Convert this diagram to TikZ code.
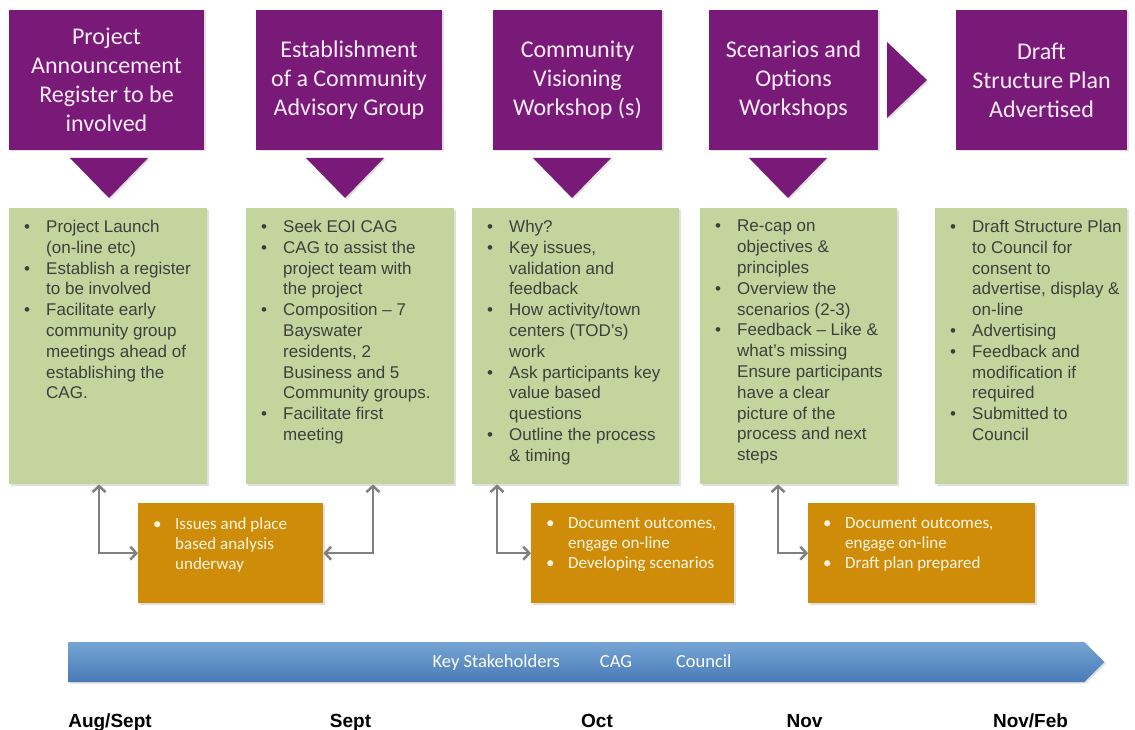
\documentclass[tikz,border=0pt]{standalone}
\usepackage{fontspec}
\setmainfont{Liberation Sans}
\newfontfamily\calibri{Carlito}
\usetikzlibrary{positioning,shapes.arrows,shadows,arrows.meta}

\definecolor{stagepurple}{RGB}{122,26,120}
\definecolor{stagetext}{RGB}{250,236,248}
\definecolor{taskgreen}{RGB}{195,213,157}
\definecolor{taskgray}{RGB}{62,62,62}
\definecolor{outorange}{RGB}{207,140,8}
\definecolor{outtext}{RGB}{255,246,228}
\definecolor{linkgray}{RGB}{128,128,128}
\definecolor{bluetop}{RGB}{118,165,212}
\definecolor{bluebot}{RGB}{72,122,182}

\newcommand{\bul}{\makebox[22pt][l]{\textbullet}}
\newcommand{\ind}{\hspace*{22pt}}

\tikzset{%
  softshadow/.style={drop shadow={shadow xshift=1.5pt,shadow yshift=-1.5pt,opacity=0.25}},
  stage/.style={fill=stagepurple, text=stagetext, align=center, inner sep=0pt,
    minimum height=140pt, font=\calibri\fontsize{24}{29}\selectfont, softshadow},
  taskbox/.style={fill=taskgreen, anchor=north west, inner sep=0pt,
    minimum height=276pt, softshadow},
  tasktext/.style={anchor=north west, inner sep=0pt, align=left, text=taskgray,
    font=\fontsize{17}{20.8}\selectfont},
  outbox/.style={fill=outorange, anchor=north west, inner sep=0pt,
    minimum height=100pt, softshadow},
  outtext/.style={anchor=north west, inner sep=0pt, align=left, text=outtext,
    font=\calibri\fontsize{17}{20}\selectfont},
  link/.style={draw=linkgray, line width=2.5pt, >={Straight Barb[length=6pt,width=13pt]}, <->},
  timeline/.style={single arrow, single arrow head extend=0pt, inner sep=0pt, anchor=west,
    minimum height=1036pt, minimum width=40pt, top color=bluetop, bottom color=bluebot,
    softshadow},
  month/.style={anchor=base, font=\bfseries\fontsize{19}{23}\selectfont}
}

\begin{document}
\begin{tikzpicture}[x=1pt,y=-1pt]
    \useasboundingbox (0,0) rectangle (1135,730);

    % Stages
    \node[stage, minimum width=195pt] (s1) at (106.5,80) {Project\\Announcement\\Register to be\\involved};
    \node[stage, minimum width=186pt] (s2) at (349,80) {Establishment\\of a Community\\Advisory Group};
    \node[stage, minimum width=169pt] (s3) at (577.5,80) {Community\\Visioning\\Workshop (s)};
    \node[stage, minimum width=169pt] (s4) at (793.5,80) {Scenarios and\\Options\\Workshops};
    \node[stage, minimum width=171pt] (s5) at (1041.5,80) {Draft\\Structure Plan\\Advertised};

    % Down arrows below the stages
    \foreach \tx in {109,345,572,788}
        {
        \fill[stagepurple, softshadow] ({\tx-39},158) -- ({\tx+39},158) -- (\tx,198) -- cycle;
        }
    \fill[stagepurple, softshadow] (887,42) -- (927,80) -- (887,118) -- cycle;

    % Tasks
    \node[taskbox, minimum width=198pt] (g1) at (9,208) {};
    \node[taskbox, minimum width=208pt] (g2) at (246,208) {};
    \node[taskbox, minimum width=207pt] (g3) at (472,208) {};
    \node[taskbox, minimum width=197pt] (g4) at (700,208) {};
    \node[taskbox, minimum width=192pt] (g5) at (935,208) {};

    \node[tasktext] (g1t) at ([xshift=15pt,yshift=-12pt]g1.north west)
        {\bul Project Launch\\ \ind (on-line etc)\\ \bul Establish a register\\ \ind to be involved\\
         \bul Facilitate early\\ \ind community group\\ \ind meetings ahead of\\ \ind establishing the\\ \ind CAG.};
    \node[tasktext] (g2t) at ([xshift=15pt,yshift=-12pt]g2.north west)
        {\bul Seek EOI CAG\\ \bul CAG to assist the\\ \ind project team with\\ \ind the project\\
         \bul Composition – 7\\ \ind Bayswater\\ \ind residents, 2\\ \ind Business and 5\\ \ind Community groups.\\
         \bul Facilitate first\\ \ind meeting};
    \node[tasktext] (g3t) at ([xshift=15pt,yshift=-12pt]g3.north west)
        {\bul Why?\\ \bul Key issues,\\ \ind validation and\\ \ind feedback\\
         \bul How activity/town\\ \ind centers (TOD's)\\ \ind work\\
         \bul Ask participants key\\ \ind value based\\ \ind questions\\
         \bul Outline the process\\ \ind \& timing};
    \node[tasktext] (g4t) at ([xshift=15pt,yshift=-12pt]g4.north west)
        {\bul Re-cap on\\ \ind objectives \&\\ \ind principles\\
         \bul Overview the\\ \ind scenarios (2-3)\\
         \bul Feedback – Like \&\\ \ind what's missing\\ \ind Ensure participants\\ \ind have a clear\\
         \ind picture of the\\ \ind process and next\\ \ind steps};
    \node[tasktext] (g5t) at ([xshift=15pt,yshift=-12pt]g5.north west)
        {\bul Draft Structure Plan\\ \ind to Council for\\ \ind consent to\\ \ind advertise, display \&\\ \ind on-line\\
         \bul Advertising\\ \bul Feedback and\\ \ind modification if\\ \ind required\\
         \bul Submitted to\\ \ind Council};

    % Outcomes
    \node[outbox, minimum width=185pt] (o1) at (138,503) {};
    \node[outbox, minimum width=203pt] (o2) at (531,503) {};
    \node[outbox, minimum width=227pt] (o3) at (808,503) {};

    \node[outtext] (o1t) at ([xshift=15pt,yshift=-14pt]o1.north west)
        {\bul Issues and place\\ \ind based analysis\\ \ind underway};
    \node[outtext] (o2t) at ([xshift=15pt,yshift=-14pt]o2.north west)
        {\bul Document outcomes,\\ \ind engage on-line\\ \bul Developing scenarios};
    \node[outtext] (o3t) at ([xshift=15pt,yshift=-14pt]o3.north west)
        {\bul Document outcomes,\\ \ind engage on-line\\ \bul Draft plan prepared};

    % Links between tasks and outcomes
    \draw[link] ([xshift=90pt]g1.south west) |- (o1.west);
    \draw[link] ([xshift=127pt]g2.south west) |- (o1.east);
    \draw[link] ([xshift=25pt]g3.south west) |- (o2.west);
    \draw[link] ([xshift=78pt]g4.south west) |- (o3.west);

    % Timeline
    \node[timeline] (tl) at (68,662) {};
    \node[anchor=base, text=white, font=\calibri\fontsize{18.5}{22}\selectfont] (tlt) at (582,667)
        {Key Stakeholders\hspace{40pt}CAG\hspace{44pt}Council};

    \node[month] (m1) at (110,727) {Aug/Sept};
    \node[month] (m2) at (350.5,727) {Sept};
    \node[month] (m3) at (597,727) {Oct};
    \node[month] (m4) at (804.5,727) {Nov};
    \node[month] (m5) at (1030.5,727) {Nov/Feb};

\end{tikzpicture}
\end{document}
